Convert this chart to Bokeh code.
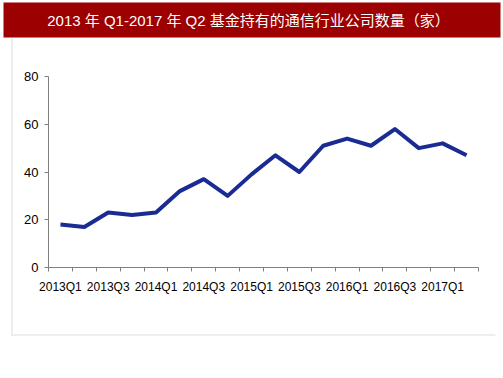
from bokeh.plotting import figure
from bokeh.models import Range1d, FixedTicker, BoxAnnotation, Label
from bokeh.embed import file_html
from bokeh.resources import INLINE

quarters = ["2013Q1", "2013Q2", "2013Q3", "2013Q4",
            "2014Q1", "2014Q2", "2014Q3", "2014Q4",
            "2015Q1", "2015Q2", "2015Q3", "2015Q4",
            "2016Q1", "2016Q2", "2016Q3", "2016Q4",
            "2017Q1", "2017Q2"]
counts = [18, 17, 23, 22, 23, 32, 37, 30, 39, 47, 40, 51, 54, 51, 58, 50, 52, 47]
y_ticks = [0, 20, 40, 60, 80]
title_text = "2013 年 Q1-2017 年 Q2 基金持有的通信行业公司数量（家）"

W, H = 503, 378
# pixel layout of the axes area
AX_L, AX_R, AX_T, AX_B = 48, 478, 76, 267
n = len(quarters)
ymax = y_ticks[-1]
sx = (AX_R - AX_L) / n
sy = (AX_B - AX_T) / ymax
x_range = Range1d(-AX_L / sx, n + (W - AX_R) / sx)
y_range = Range1d(-(H - AX_B) / sy, ymax + AX_T / sy)

xs = [i + 0.5 for i in range(n)]
label_pos = [i + 0.5 for i in range(0, n, 2)]
label_map = {p: quarters[int(p - 0.5)] for p in label_pos}

FONT = "Liberation Sans, Arial, sans-serif"
FRAME = "#dedede"


def canvas_box(left, right, top, bottom, color):
    return BoxAnnotation(left=left, right=right, top=top, bottom=bottom,
                         left_units="canvas", right_units="canvas",
                         top_units="canvas", bottom_units="canvas",
                         fill_color=color, fill_alpha=1, line_color=None)


p = figure(width=W, height=H, output_backend="svg", toolbar_location=None,
           x_range=x_range, y_range=y_range, min_border=0)
p.outline_line_color = None
p.grid.visible = False
p.background_fill_color = "white"
p.border_fill_color = "white"

# light frame (left and bottom edges) and title bar
p.add_layout(canvas_box(11, 12, 38, 335, FRAME))
p.add_layout(canvas_box(11, 495, 334, 335, FRAME))
p.add_layout(canvas_box(3, 500, 2, 37, "#9c0000"))
p.add_layout(Label(x=248, y=20, x_units="canvas", y_units="canvas",
                   text=title_text, text_color="white", text_font_size="15px",
                   text_font="Liberation Sans, Noto Sans CJK SC, sans-serif",
                   text_align="center", text_baseline="middle"))

p.line(xs, counts, line_color="#1b2b94", line_width=4, line_join="round")

xa = p.xaxis[0]
xa.fixed_location = 0
xa.bounds = (0, n)
xa.ticker = FixedTicker(ticks=label_pos, minor_ticks=list(range(n + 1)))
xa.major_label_overrides = label_map
xa.major_tick_line_color = None
xa.minor_tick_line_color = "#808080"
xa.minor_tick_in = 0
xa.minor_tick_out = 4
xa.axis_line_color = "#808080"
xa.major_label_text_font = FONT
xa.major_label_text_font_size = "12px"
xa.major_label_text_color = "#000000"
xa.major_label_standoff = 6

ya = p.yaxis[0]
ya.fixed_location = 0
ya.bounds = (0, ymax)
ya.ticker = FixedTicker(ticks=y_ticks)
ya.minor_tick_line_color = None
ya.major_tick_line_color = "#808080"
ya.major_tick_in = 0
ya.major_tick_out = 4
ya.axis_line_color = "#808080"
ya.major_label_text_font = FONT
ya.major_label_text_font_size = "13px"
ya.major_label_text_color = "#000000"
ya.major_label_standoff = 6

open("out.html", "w").write(file_html(p, INLINE))
